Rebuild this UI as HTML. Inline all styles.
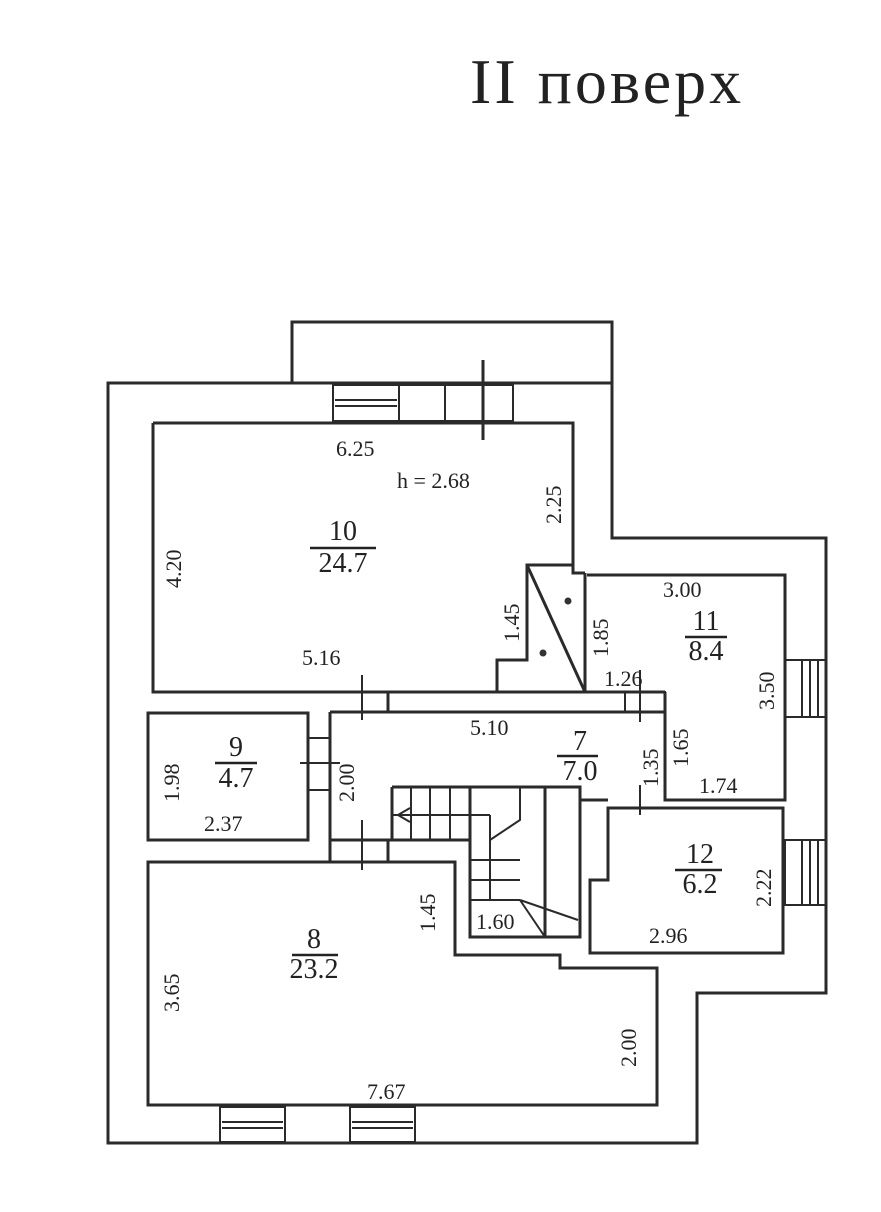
<!DOCTYPE html>
<html><head><meta charset="utf-8"><style>
body{margin:0;background:#fff;}
svg{display:block;}
text{font-family:"Liberation Serif",serif;fill:#222;}
</style></head><body>
<svg width="881" height="1212" viewBox="0 0 881 1212" xmlns="http://www.w3.org/2000/svg">
<text x="470" y="103" font-size="64" letter-spacing="3">II поверх</text>
<g fill="none" stroke="#2a2a2a" stroke-width="3">
<polyline points="292,383 292,322 612,322 612,383"/>
<polygon points="108,383 612,383 612,538 826,538 826,993 697,993 697,1143 108,1143"/>
<polyline points="153,423 573,423 573,573 585,573"/>
<polyline points="153,423 153,692 497,692 497,660 527,660 527,565 573,565"/>
<line x1="527" y1="565" x2="585" y2="692"/>
<line x1="585" y1="573" x2="585" y2="692"/>
<line x1="497" y1="692" x2="665" y2="692"/>
<polyline points="587,575 785,575 785,800 665,800 665,692"/>
<line x1="330" y1="712" x2="665" y2="712"/>
<polyline points="330,712 330,840 470,840"/>
<line x1="330" y1="862" x2="330" y2="840"/>
<line x1="388" y1="692" x2="388" y2="712"/>
<line x1="388" y1="840" x2="388" y2="862"/>
<rect x="148" y="713" width="160" height="127"/>
<polygon points="148,862 455,862 455,955 560,955 560,968 657,968 657,1105 148,1105"/>
<polyline points="392,787 580,787 580,800 608,800"/>
<rect x="470" y="787" width="110" height="150"/>
<line x1="545" y1="787" x2="545" y2="937"/>
<line x1="392" y1="787" x2="392" y2="840"/>
<polygon points="608,808 783,808 783,953 590,953 590,880 608,880"/>
</g>
<g fill="none" stroke="#2a2a2a" stroke-width="2">
<line x1="411" y1="787" x2="411" y2="840"/><line x1="430" y1="787" x2="430" y2="840"/>
<line x1="450" y1="787" x2="450" y2="840"/><line x1="470" y1="787" x2="470" y2="840"/>
<line x1="392" y1="815" x2="490" y2="815"/>
<line x1="470" y1="860" x2="520" y2="860"/><line x1="470" y1="880" x2="520" y2="880"/>
<line x1="470" y1="900" x2="520" y2="900"/>
<line x1="490" y1="815" x2="490" y2="900"/>
<polyline points="490,840 520,820 520,787"/>
<line x1="520" y1="900" x2="578" y2="920"/><line x1="520" y1="900" x2="545" y2="937"/>
<line x1="398" y1="815" x2="410" y2="808"/><line x1="398" y1="815" x2="410" y2="822"/>
<rect x="333" y="385" width="66" height="36"/>
<line x1="335" y1="400" x2="397" y2="400"/><line x1="335" y1="406" x2="397" y2="406"/>
<rect x="399" y="385" width="114" height="36"/>
<line x1="445" y1="385" x2="445" y2="421"/>
<line x1="483" y1="360" x2="483" y2="440" stroke-width="3"/>
<rect x="220" y="1107" width="65" height="35"/>
<line x1="222" y1="1122" x2="283" y2="1122"/><line x1="222" y1="1128" x2="283" y2="1128"/>
<rect x="350" y="1107" width="65" height="35"/>
<line x1="352" y1="1122" x2="413" y2="1122"/><line x1="352" y1="1128" x2="413" y2="1128"/>
<rect x="785" y="660" width="41" height="57"/>
<line x1="802" y1="660" x2="802" y2="717"/><line x1="810" y1="660" x2="810" y2="717"/><line x1="818" y1="660" x2="818" y2="717"/>
<rect x="785" y="840" width="41" height="65"/>
<line x1="802" y1="840" x2="802" y2="905"/><line x1="810" y1="840" x2="810" y2="905"/><line x1="818" y1="840" x2="818" y2="905"/>
<line x1="362" y1="675" x2="362" y2="720"/>
<line x1="362" y1="820" x2="362" y2="870"/>
<line x1="308" y1="738" x2="330" y2="738"/><line x1="308" y1="790" x2="330" y2="790"/>
<line x1="300" y1="763" x2="340" y2="763"/>
<rect x="625" y="692" width="40" height="20"/>
<line x1="640" y1="670" x2="640" y2="722"/>
<line x1="640" y1="785" x2="640" y2="815"/>
</g>
<circle cx="568" cy="601" r="3.5" fill="#333"/>
<circle cx="543" cy="653" r="3.5" fill="#333"/>
<g font-size="22" fill="#222">
<text x="336" y="456">6.25</text>
<text x="397" y="488">h = 2.68</text>
<text x="302" y="665">5.16</text>
<text x="470" y="735">5.10</text>
<text x="204" y="831">2.37</text>
<text x="663" y="597">3.00</text>
<text x="604" y="686">1.26</text>
<text x="699" y="793">1.74</text>
<text x="476" y="929">1.60</text>
<text x="649" y="943">2.96</text>
<text x="367" y="1099">7.67</text>
</g>
<g font-size="22" fill="#222">
<text transform="translate(181,588) rotate(-90)">4.20</text>
<text transform="translate(561,524) rotate(-90)">2.25</text>
<text transform="translate(519,642) rotate(-90)">1.45</text>
<text transform="translate(608,657) rotate(-90)">1.85</text>
<text transform="translate(774,710) rotate(-90)">3.50</text>
<text transform="translate(688,767) rotate(-90)">1.65</text>
<text transform="translate(658,787) rotate(-90)">1.35</text>
<text transform="translate(354,802) rotate(-90)">2.00</text>
<text transform="translate(179,802) rotate(-90)">1.98</text>
<text transform="translate(435,932) rotate(-90)">1.45</text>
<text transform="translate(179,1012) rotate(-90)">3.65</text>
<text transform="translate(636,1067) rotate(-90)">2.00</text>
<text transform="translate(771,907) rotate(-90)">2.22</text>
</g>
<g font-size="28" fill="#222" text-anchor="middle">
<text x="343" y="540">10</text><text x="343" y="572">24.7</text>
<text x="706" y="630">11</text><text x="706" y="660">8.4</text>
<text x="236" y="756">9</text><text x="236" y="787">4.7</text>
<text x="580" y="750">7</text><text x="580" y="780">7.0</text>
<text x="314" y="948">8</text><text x="314" y="978">23.2</text>
<text x="700" y="863">12</text><text x="700" y="893">6.2</text>
</g>
<g stroke="#222" stroke-width="2.5">
<line x1="310" y1="548" x2="376" y2="548"/>
<line x1="685" y1="637" x2="727" y2="637"/>
<line x1="215" y1="763" x2="257" y2="763"/>
<line x1="557" y1="756" x2="598" y2="756"/>
<line x1="292" y1="955" x2="338" y2="955"/>
<line x1="675" y1="870" x2="722" y2="870"/>
</g>
</svg>
</body></html>
